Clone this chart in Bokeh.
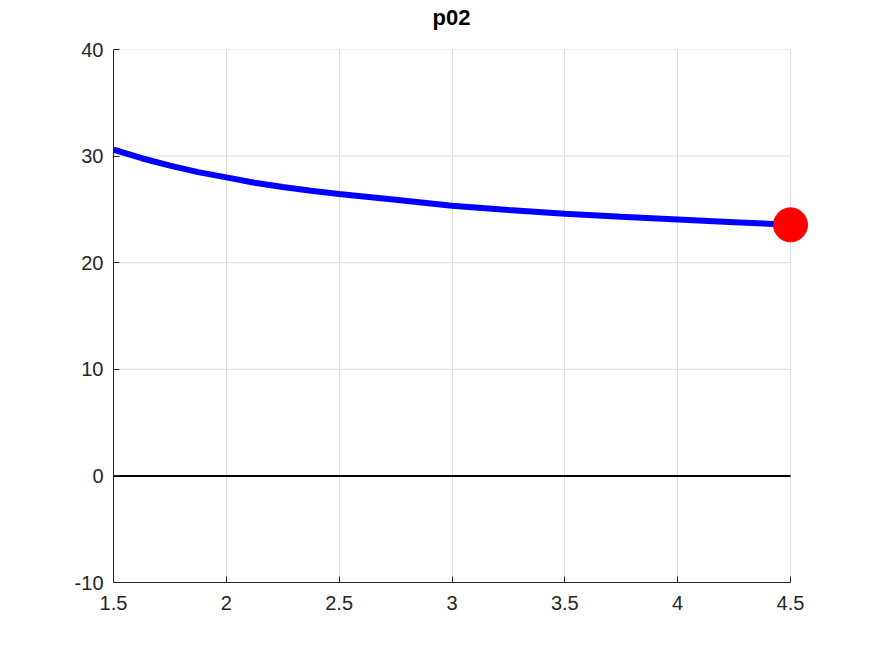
from bokeh.plotting import figure
from bokeh.models import Range1d, FixedTicker, Title
from bokeh.embed import file_html
from bokeh.resources import INLINE

# data
x_vals = [1.5, 1.625, 1.75, 1.875, 2.0, 2.125, 2.25, 2.375, 2.5, 2.75, 3.0, 3.25, 3.5, 3.75, 4.0, 4.25, 4.5]
y_vals = [30.6, 29.8, 29.1, 28.5, 28.0, 27.5, 27.1, 26.75, 26.45, 25.9, 25.35, 24.95, 24.6, 24.3, 24.05, 23.8, 23.55]
end_x = [4.5]
end_y = [23.55]
zero_level = 0
x_ticks = [1.5, 2, 2.5, 3, 3.5, 4, 4.5]
x_tick_labels = ["1.5", "2", "2.5", "3", "3.5", "4", "4.5"]
y_ticks = [-10, 0, 10, 20, 30, 40]
y_tick_labels = ["-10", "0", "10", "20", "30", "40"]
title_text = "p02"

x_min, x_max = x_ticks[0], x_ticks[-1]
y_min, y_max = y_ticks[0], y_ticks[-1]

# the frame is made a little wider than the axis so the end marker is not clipped
axis_px = 677
extra_px = 18
x_extra = (x_max - x_min) * extra_px / axis_px

p = figure(width=864, height=646, output_backend="svg", toolbar_location=None,
           x_range=Range1d(x_min, x_max + x_extra), y_range=Range1d(y_min, y_max),
           title=title_text,
           frame_width=axis_px + extra_px, frame_height=533,
           min_border_left=113, min_border_right=56, min_border_top=49, min_border_bottom=64)

# empty spacer between the title and the plot area
p.add_layout(Title(text=" ", text_font_size="11px", standoff=0), "above")

p.title.align = "left"
p.title.offset = 319
p.title.vertical_align = "top"
p.title.standoff = 8
p.title.text_font = "Liberation Sans"
p.title.text_font_size = "22px"
p.title.text_font_style = "bold"
p.title.text_color = "#000000"
p.outline_line_color = None

for ax in (p.xaxis[0], p.yaxis[0]):
    ax.major_tick_in = 6
    ax.major_tick_out = 0
    ax.minor_tick_line_color = None
    ax.axis_line_color = "#262626"
    ax.major_tick_line_color = "#262626"
    ax.major_label_text_color = "#262626"
    ax.major_label_text_font = "Liberation Sans"
    ax.major_label_text_font_size = "20px"

p.xaxis.bounds = (x_min, x_max)
p.xaxis.major_label_standoff = 13
p.yaxis.major_label_standoff = 10
p.xaxis.ticker = FixedTicker(ticks=x_ticks)
p.yaxis.ticker = FixedTicker(ticks=y_ticks)
p.xaxis.major_label_overrides = dict(zip(x_ticks, x_tick_labels))
p.yaxis.major_label_overrides = dict(zip(y_ticks, y_tick_labels))

p.xgrid.grid_line_color = "#dcdcdc"
p.ygrid.grid_line_color = None

# horizontal grid lines limited to the axis extent
p.segment(x0=[x_min] * len(y_ticks), x1=[x_max] * len(y_ticks), y0=y_ticks, y1=y_ticks,
          line_color="#dcdcdc", line_width=1)

p.line([x_min, x_max], [zero_level, zero_level], line_color="black", line_width=2)

p.line(x_vals, y_vals, line_color="#0000ff", line_width=6)
p.scatter(end_x, end_y, size=34, fill_color="#ff0000", line_color="#ff0000")

open("out.html", "w").write(file_html(p, INLINE))
